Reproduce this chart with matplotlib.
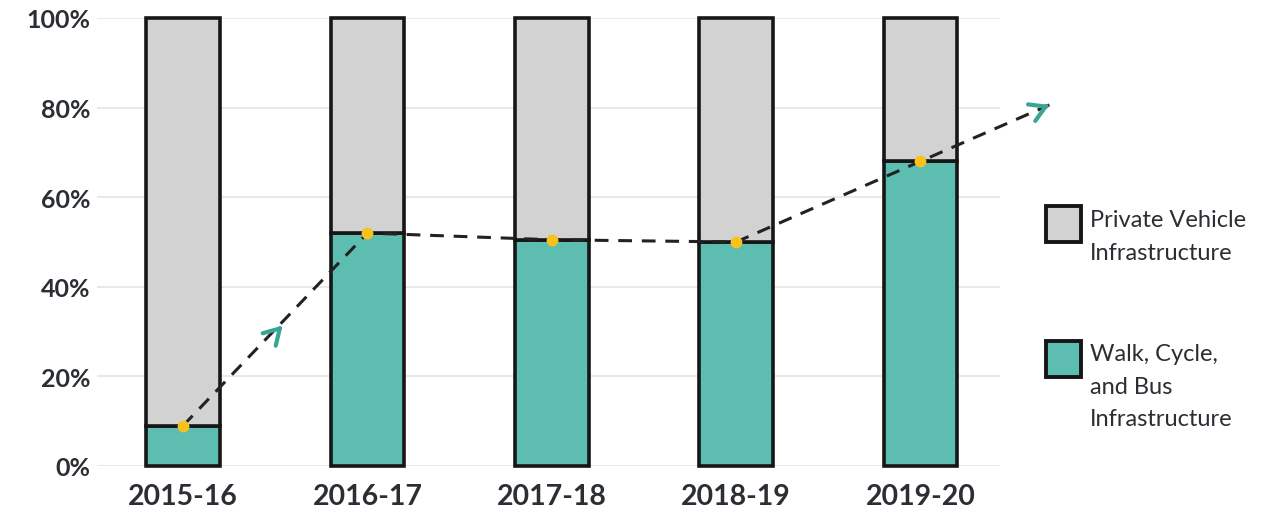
import matplotlib
matplotlib.use("Agg")
import matplotlib.pyplot as plt
from matplotlib.patches import Rectangle
import numpy as np

categories = ["2015-16", "2016-17", "2017-18", "2018-19", "2019-20"]
walk_cycle_bus = [9, 52, 50.5, 50, 68]
private_vehicle = [91, 48, 49.5, 50, 32]
y_ticks = [0, 20, 40, 60, 80, 100]
y_tick_labels = ["0%", "20%", "40%", "60%", "80%", "100%"]
legend_labels = ["Private Vehicle\nInfrastructure", "Walk, Cycle,\nand Bus\nInfrastructure"]

TEAL = "#5dbdb1"
GRAY = "#d2d2d2"
EDGE = "#161616"
ARROW = "#3aa597"
YELLOW = "#f7c21a"
TEXT = "#2b2f33"

plt.rcParams["font.family"] = ["Lato", "DejaVu Sans"]

W, H = 1287, 510
fig = plt.figure(figsize=(W / 100, H / 100), dpi=100)
ax = fig.add_axes([97 / W, (510 - 467) / H, (1000 - 97) / W, (467 - 19) / H])

x = np.arange(len(categories))
bw = 0.40
ax.bar(x, walk_cycle_bus, width=bw, color=TEAL, edgecolor=EDGE, linewidth=2.6, zorder=3, clip_on=False)
ax.bar(x, private_vehicle, width=bw, bottom=walk_cycle_bus, color=GRAY, edgecolor=EDGE,
       linewidth=2.6, zorder=3, clip_on=False)

ax.set_xlim(-0.467, 4.432)
ax.set_ylim(0, 100)
ax.set_yticks(y_ticks)
ax.set_yticklabels(y_tick_labels)
ax.set_xticks(x)
ax.set_xticklabels(categories)
ax.grid(axis="y", color="#e9e9e9", linewidth=1.5, zorder=0)
ax.set_axisbelow(True)
for s in ax.spines.values():
    s.set_visible(False)
ax.tick_params(axis="both", length=0)
ax.tick_params(axis="y", pad=5, labelsize=18, labelcolor=TEXT)
ax.tick_params(axis="x", pad=12, labelsize=20.5, labelcolor=TEXT)
for lab in ax.get_yticklabels() + ax.get_xticklabels():
    lab.set_fontweight("bold")

# trend line: through tops of the teal segments, extended past the last bar
wv = np.array(walk_cycle_bus, dtype=float)
ext = 0.7
x_end = x[-1] + ext
y_end = wv[-1] + ext * (wv[-1] - wv[-2])
lx = list(x) + [x_end]
ly = list(wv) + [y_end]
ax.plot(lx, ly, color="#222222", linewidth=2.2, linestyle=(0, (4.5, 3.2)), zorder=5,
        clip_on=False, dash_capstyle="butt")
ax.plot(x, wv, linestyle="none", marker="o", markersize=7.5, color=YELLOW, zorder=6, clip_on=False)


def chevron(xt, yt, xs, ys):
    ax.annotate("", xy=(xt, yt), xytext=(xs, ys),
                arrowprops=dict(arrowstyle="->,head_length=1.1,head_width=0.65",
                                color=ARROW, lw=3.0, shrinkA=0, shrinkB=0),
                zorder=7, annotation_clip=False)


# end arrow
d = 0.02
chevron(x_end, y_end, x_end - d, y_end - d * (wv[-1] - wv[-2]))
# mid arrow on first segment
t = 0.52
mx = x[0] + t
my = wv[0] + t * (wv[1] - wv[0])
chevron(mx + 0.02, my, mx + 0.02 - d, my - d * (wv[1] - wv[0]))

# legend
leg_colors = [GRAY, TEAL]
box_top = [207, 342]
text_top = [210, 344]
for lbl, col, top, tt in zip(legend_labels, leg_colors, box_top, text_top):
    r = Rectangle((1046 / W, (510 - top - 36) / H), 35 / W, 36 / H, transform=fig.transFigure,
                  facecolor=col, edgecolor=EDGE, linewidth=2.8)
    fig.add_artist(r)
    fig.text(1090 / W, (510 - tt) / H, lbl, ha="left", va="top", fontsize=17,
             color=TEXT, linespacing=1.68)

fig.savefig("out.png", dpi=100, facecolor="white")
